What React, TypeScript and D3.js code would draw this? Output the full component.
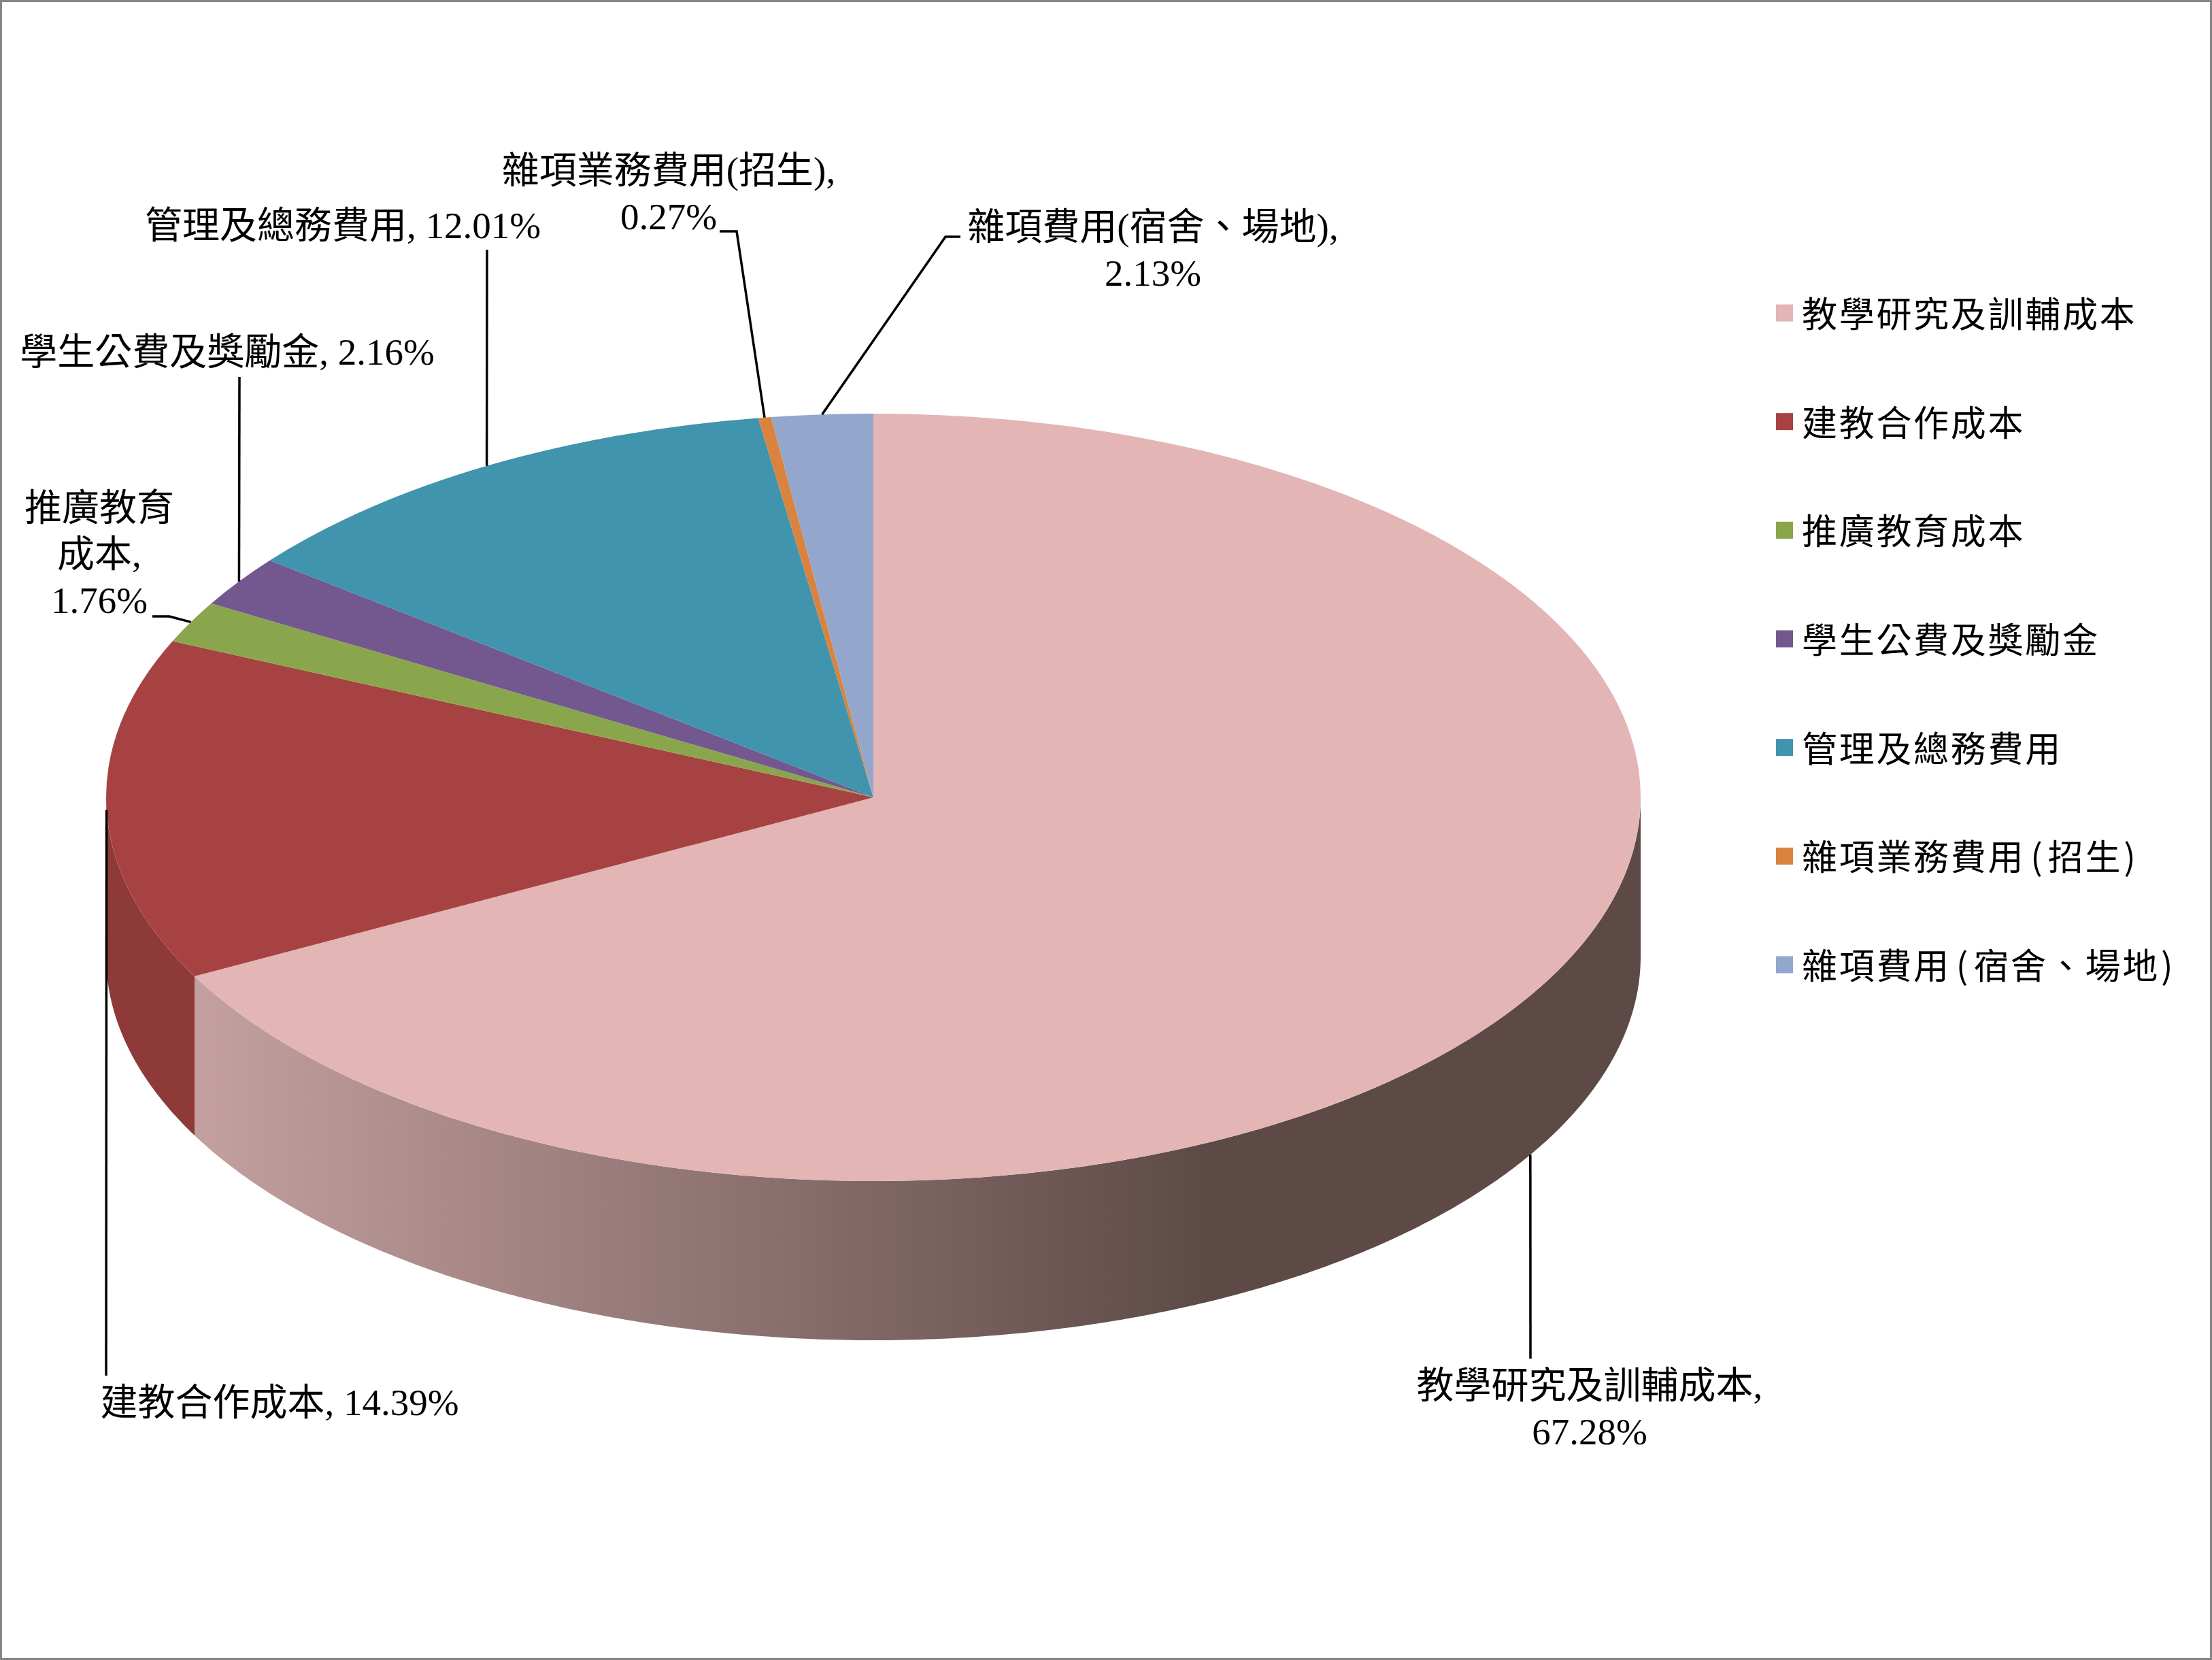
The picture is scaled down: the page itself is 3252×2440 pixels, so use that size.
import * as d3 from 'd3';

const categories = [
  '教學研究及訓輔成本',
  '建教合作成本',
  '推廣教育成本',
  '學生公費及獎勵金',
  '管理及總務費用',
  '雜項業務費用(招生)',
  '雜項費用(宿舍、場地)',
];
const values = [67.28, 14.39, 1.76, 2.16, 12.01, 0.27, 2.13];
const colors = ['#e3b5b5', '#a64342', '#8aa64c', '#735890', '#4094ad', '#d9833f', '#93a7cd'];
const sideColors = ['url(#pinkSide)', '#8e3a38', '#70853d', '#5c4674', '#33768a', '#ad6932', '#7686a4'];

// label line breaks and placement, centre x / middle y of the first line
const labelLayout = [
  { x: 2337, y: 2037, breaks: [10] },
  { x: 411, y: 2062, breaks: [] },
  { x: 146, y: 747, breaks: [4, 7] },
  { x: 334, y: 518, breaks: [] },
  { x: 504, y: 332, breaks: [] },
  { x: 983, y: 251, breaks: [12] },
  { x: 1695, y: 334, breaks: [13] },
];
// extra leader points after the anchor on the pie edge
const leaderRoutes: number[][][] = [
  [[2250, 1997]],
  [[156, 2022]],
  [[249, 906], [224, 906]],
  [[352, 554]],
  [[716, 367]],
  [[1083, 340], [1058, 340]],
  [[1390, 348], [1412, 348]],
];

const W = 3252;
const H = 2440;
const cx = 1284;
const cy = 1172;
const rx = 1128;
const ry = 564;
const depth = 234;
const lineH = 68;

const pie = d3.pie<number>().sort(null)(values);
const arc = d3.arc<d3.PieArcDatum<number>>().innerRadius(0).outerRadius(rx);

const rimX = (a: number) => cx + rx * Math.sin(a);
const rimY = (a: number) => cy - ry * Math.cos(a);

// front wall of a slice, only the part between 90 and 270 degrees shows
function sidePath(start: number, end: number) {
  const a0 = Math.max(start, Math.PI / 2);
  const a1 = Math.min(end, (Math.PI * 3) / 2);
  if (a1 <= a0) return null;
  const angles = [...d3.range(a0, a1, 0.01), a1];
  const rim = d3.line<number>().x(rimX).y(rimY)(angles);
  const low = d3.line<number>().x(rimX).y((a) => rimY(a) + depth)([...angles].reverse());
  return rim + 'L' + low!.slice(1) + 'Z';
}

function splitLabel(text: string, breaks: number[]) {
  const cuts = [0, ...breaks, text.length];
  return d3.pairs(cuts).map(([a, b]) => text.slice(a, b).trim());
}

const legendY = d3.scalePoint<string>().domain(categories).range([460, 1418]);

// legend brackets are wider than the plain glyph
function legendText(text: string) {
  return text.split(/([()])/).filter(Boolean).map((part, i) =>
    part === '(' || part === ')' ? (
      <tspan key={i} dx={part === '(' ? 8 : 2} style={{ letterSpacing: 8 }}>{part}</tspan>
    ) : (
      <tspan key={i}>{part}</tspan>
    ),
  );
}

export default function App() {
  return (
    <>
      <style>{'body{margin:0}'}</style>
      <svg width={W} height={H} viewBox={`0 0 ${W} ${H}`} style={{ display: 'block' }}>
        <defs>
          <linearGradient id="pinkSide" gradientUnits="userSpaceOnUse" x1={284} x2={1780} y1={0} y2={0}>
            <stop offset="0" stopColor="#c4a0a0" />
            <stop offset="1" stopColor="#5d4a47" />
          </linearGradient>
        </defs>
        <rect x={0} y={0} width={W} height={H} fill="#fff" />
        <rect x={1.5} y={1.5} width={W - 3} height={H - 3} fill="none" stroke="#868686" strokeWidth={3} />

        {pie.map((d, i) => {
          const p = sidePath(d.startAngle, d.endAngle);
          return p ? <path key={i} d={p} fill={sideColors[i]} /> : null;
        })}
        <g transform={`translate(${cx},${cy}) scale(1,${ry / rx})`}>
          {pie.map((d, i) => (
            <path key={i} d={arc(d)!} fill={colors[i]} />
          ))}
        </g>

        <g fill="none" stroke="#000" strokeWidth={3.5}>
          {pie.map((d, i) => {
            const a = (d.startAngle + d.endAngle) / 2;
            const hidden = i === 0 ? depth : 0;
            const pts = [[rimX(a), rimY(a) + hidden], ...leaderRoutes[i]] as [number, number][];
            return <path key={i} d={d3.line()(pts)!} />;
          })}
        </g>

        <g fontFamily="'Liberation Serif','Noto Sans CJK TC',serif" fontSize={55} textAnchor="middle" fill="#000">
          {categories.map((c, i) => {
            const lines = splitLabel(`${c}, ${values[i].toFixed(2)}%`, labelLayout[i].breaks);
            return lines.map((t, j) => (
              <text key={`${i}-${j}`} x={labelLayout[i].x} y={labelLayout[i].y + j * lineH + 18}>
                {t}
              </text>
            ));
          })}
        </g>

        <g fontFamily="'Noto Sans CJK TC',serif" fontSize={52} fill="#000">
          {categories.map((c, i) => (
            <g key={c}>
              <rect x={2611} y={legendY(c)! - 12.5} width={25} height={25} fill={colors[i]} />
              <text x={2649} y={legendY(c)! + 21} style={{ letterSpacing: 2.7 }}>
                {legendText(c)}
              </text>
            </g>
          ))}
        </g>
      </svg>
    </>
  );
}
